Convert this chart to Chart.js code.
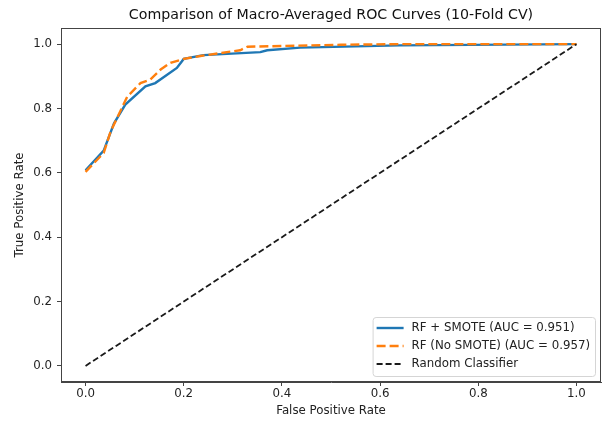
<!DOCTYPE html>
<html>
<head>
<meta charset="utf-8">
<script src="https://cdn.jsdelivr.net/npm/chart.js@4/dist/chart.umd.min.js"></script>
<style>
  html, body { margin: 0; padding: 0; background: #fff; }
  #wrap { width: 603px; height: 421px; }
</style>
</head>
<body>
<div id="wrap"><canvas id="rocChart" width="603" height="421"></canvas></div>
<script>
// ROC curves (macro-averaged, 10-fold CV)
const fprSmote = [0, 0.037, 0.058, 0.081, 0.122, 0.142, 0.186, 0.2, 0.24, 0.356, 0.37, 0.437, 0.64, 1.0];
const tprSmote = [0.608, 0.669, 0.754, 0.812, 0.869, 0.879, 0.926, 0.954, 0.966, 0.975, 0.981, 0.989, 0.996, 1.0];

const fprNoSmote = [0, 0.037, 0.051, 0.085, 0.112, 0.132, 0.153, 0.173, 0.2, 0.234, 0.315, 0.33, 0.52, 0.64, 1.0];
const tprNoSmote = [0.603, 0.662, 0.728, 0.837, 0.879, 0.89, 0.921, 0.942, 0.954, 0.963, 0.981, 0.992, 0.998, 1.0, 1.0];

const fprRandom = [0, 1];
const tprRandom = [0, 1];

const seriesLabels = ["RF + SMOTE (AUC = 0.951)", "RF (No SMOTE) (AUC = 0.957)", "Random Classifier"];
const xTicks = [0.0, 0.2, 0.4, 0.6, 0.8, 1.0];
const yTicks = [0.0, 0.2, 0.4, 0.6, 0.8, 1.0];

const FONT = "'DejaVu Sans', sans-serif";
const TEXT_SIZE = 11.8;

function toPoints(xs, ys) {
    return xs.map((x, i) => ({ x: x, y: ys[i] }));
}

// matplotlib-like frame on all four sides
const framePlugin = {
    id: "frame",
    afterDraw(chart) {
        const a = chart.chartArea;
        const ctx = chart.ctx;
        ctx.save();
        ctx.strokeStyle = "#444";
        ctx.lineWidth = 1;
        ctx.strokeRect(Math.round(a.left) + 0.5, Math.round(a.top) + 0.5,
                       Math.round(a.right - a.left) - 1, Math.round(a.bottom - a.top) - 1);
        ctx.restore();
    }
};

// legend box in the lower right of the plot area
const insideLegend = {
    id: "insideLegend",
    afterDraw(chart) {
        const ctx = chart.ctx;
        const a = chart.chartArea;
        const sets = chart.data.datasets;
        ctx.save();
        ctx.font = TEXT_SIZE + "px " + FONT;
        let maxW = 0;
        sets.forEach(ds => { maxW = Math.max(maxW, ctx.measureText(ds.label).width); });
        const rowH = 18;
        const w = maxW + 44;
        const h = rowH * sets.length + 5;
        const right = a.right - 6;
        const bottom = a.bottom - 6;
        const left = right - w;
        const top = bottom - h;

        ctx.beginPath();
        ctx.roundRect(left + 0.5, top + 0.5, w, h, 3);
        ctx.fillStyle = "rgba(255,255,255,0.8)";
        ctx.fill();
        ctx.strokeStyle = "#d5d5d5";
        ctx.lineWidth = 1;
        ctx.stroke();

        sets.forEach((ds, i) => {
            const cy = top + 11 + i * rowH;
            ctx.beginPath();
            ctx.strokeStyle = ds.borderColor;
            ctx.lineWidth = ds.borderWidth;
            ctx.setLineDash(ds.borderDash || []);
            ctx.moveTo(left + 4, cy);
            ctx.lineTo(left + 31, cy);
            ctx.stroke();
            ctx.setLineDash([]);
            ctx.fillStyle = "#222";
            ctx.textBaseline = "middle";
            ctx.textAlign = "left";
            ctx.fillText(ds.label, left + 39, cy);
        });
        ctx.restore();
    }
};

const ctx = document.getElementById("rocChart").getContext("2d");
const rocChart = new Chart(ctx, {
    type: "scatter",
    data: {
        datasets: [
            {
                label: seriesLabels[0],
                data: toPoints(fprSmote, tprSmote),
                showLine: true,
                borderColor: "#1f77b4",
                backgroundColor: "#1f77b4",
                borderWidth: 2.4,
                pointRadius: 0,
                tension: 0,
                order: 2
            },
            {
                label: seriesLabels[1],
                data: toPoints(fprNoSmote, tprNoSmote),
                showLine: true,
                borderColor: "#ff7f0e",
                backgroundColor: "#ff7f0e",
                borderWidth: 2.4,
                borderDash: [9, 4],
                pointRadius: 0,
                tension: 0,
                order: 1
            },
            {
                label: seriesLabels[2],
                data: toPoints(fprRandom, tprRandom),
                showLine: true,
                borderColor: "#1a1a1a",
                backgroundColor: "#1a1a1a",
                borderWidth: 1.8,
                borderDash: [6, 3],
                pointRadius: 0,
                order: 0
            }
        ]
    },
    options: {
        responsive: false,
        animation: false,
        layout: { padding: { left: 0, right: 2, top: 0, bottom: 0 } },
        plugins: {
            legend: { display: false },
            tooltip: { enabled: false },
            title: {
                display: true,
                text: "Comparison of Macro-Averaged ROC Curves (10-Fold CV)",
                fullSize: false,
                color: "#111",
                font: { family: FONT, size: 14.2, weight: "normal" },
                padding: { top: 7, bottom: 4 }
            }
        },
        scales: {
            x: {
                type: "linear",
                min: -0.05,
                max: 1.05,
                afterBuildTicks: s => { s.ticks = xTicks.map(v => ({ value: v })); },
                afterFit: s => { s.height = 39; },
                border: { color: "#444", width: 1 },
                grid: { drawOnChartArea: false, tickLength: 4, color: "#444" },
                ticks: {
                    color: "#222",
                    padding: 1,
                    font: { family: FONT, size: TEXT_SIZE },
                    callback: v => v.toFixed(1)
                },
                title: {
                    display: true,
                    text: "False Positive Rate",
                    color: "#222",
                    font: { family: FONT, size: TEXT_SIZE },
                    padding: 3
                }
            },
            y: {
                type: "linear",
                min: -0.05,
                max: 1.05,
                afterBuildTicks: s => { s.ticks = yTicks.map(v => ({ value: v })); },
                afterFit: s => { s.width = 61; },
                border: { color: "#444", width: 1 },
                grid: { drawOnChartArea: false, tickLength: 4, color: "#444" },
                ticks: {
                    color: "#222",
                    padding: 5,
                    font: { family: FONT, size: TEXT_SIZE },
                    callback: v => v.toFixed(1)
                },
                title: {
                    display: true,
                    text: "True Positive Rate",
                    color: "#222",
                    font: { family: FONT, size: TEXT_SIZE },
                    padding: 13
                }
            }
        }
    },
    plugins: [framePlugin, insideLegend]
});
</script>
</body>
</html>
